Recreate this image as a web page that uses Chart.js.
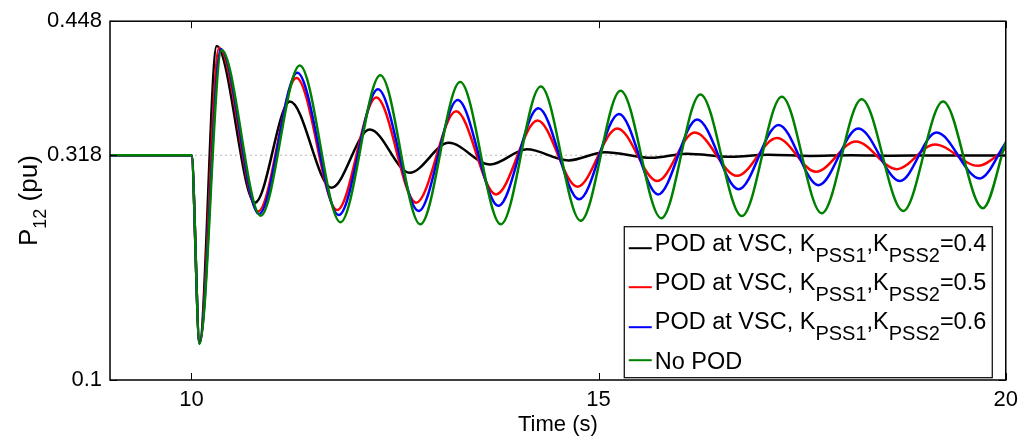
<!DOCTYPE html>
<html>
<head>
<meta charset="utf-8">
<script src="https://cdn.jsdelivr.net/npm/chart.js@4.4.1/dist/chart.umd.min.js"></script>
<style>
  html, body { margin: 0; padding: 0; background: #fff; }
  #wrap { width: 1025px; height: 437px; position: relative; }
</style>
</head>
<body>
<div id="wrap"><canvas id="chart_p12"></canvas></div>
<script>
// P12 (pu) against time (s), read at the turning points of each trace
var blackT = [9.0, 10.0, 10.10, 10.31, 10.78, 11.21, 11.72, 12.19, 12.68, 13.16, 13.67, 14.12, 14.63, 15.08, 15.65, 16.08, 16.63, 17.08, 17.60, 18.10, 18.60, 19.10, 20.0];
var blackP = [0.318, 0.318, 0.136, 0.424, 0.272, 0.370, 0.2865, 0.343, 0.301, 0.330, 0.309, 0.3237, 0.313, 0.321, 0.3155, 0.3195, 0.3165, 0.3185, 0.3173, 0.3180, 0.3175, 0.3178, 0.3177];

var redT = [9.0, 10.0, 10.10, 10.34, 10.82, 11.29, 11.79, 12.27, 12.76, 13.25, 13.74, 14.25, 14.74, 15.23, 15.72, 16.18, 16.70, 17.19, 17.67, 18.16, 18.66, 19.13, 19.66, 20.0];
var redP = [0.318, 0.318, 0.136, 0.422, 0.2635, 0.393, 0.265, 0.374, 0.272, 0.3606, 0.280, 0.3516, 0.2875, 0.344, 0.293, 0.340, 0.298, 0.3346, 0.302, 0.3314, 0.3045, 0.3285, 0.3077, 0.324];

var blueT = [9.0, 10.0, 10.10, 10.36, 10.83, 11.30, 11.81, 12.29, 12.79, 13.27, 13.77, 14.26, 14.76, 15.25, 15.73, 16.21, 16.72, 17.21, 17.70, 18.19, 18.70, 19.15, 19.68, 20.0];
var blueP = [0.318, 0.318, 0.136, 0.421, 0.261, 0.398, 0.260, 0.382, 0.264, 0.3715, 0.269, 0.3635, 0.2753, 0.358, 0.280, 0.3526, 0.285, 0.3474, 0.289, 0.344, 0.293, 0.340, 0.2955, 0.330];

var greenT = [9.0, 10.0, 10.10, 10.37, 10.85, 11.33, 11.83, 12.32, 12.81, 13.30, 13.80, 14.29, 14.78, 15.27, 15.77, 16.25, 16.76, 17.25, 17.74, 18.23, 18.74, 19.23, 19.72, 20.0];
var greenP = [0.318, 0.318, 0.135, 0.420, 0.2593, 0.405, 0.253, 0.3955, 0.251, 0.389, 0.251, 0.3846, 0.2545, 0.3805, 0.257, 0.377, 0.259, 0.3747, 0.2618, 0.3724, 0.264, 0.370, 0.2667, 0.331];

// dotted reference at the pre-fault level
var refT = [9, 20];
var refP = [0.318, 0.318];

var xTicks = [10, 15, 20];
var yTicks = [0.1, 0.318, 0.448];

var seriesLabels = [
  'POD at VSC, K_{PSS1},K_{PSS2}=0.4',
  'POD at VSC, K_{PSS1},K_{PSS2}=0.5',
  'POD at VSC, K_{PSS1},K_{PSS2}=0.6',
  'No POD'
];
var seriesColors = ['#000000', '#ff0000', '#0000ff', '#008000'];

var FONT = '"Liberation Sans", Arial, Helvetica, sans-serif';
Chart.defaults.font.family = FONT;
Chart.defaults.color = '#000';

function pts(ts, ps) {
  return ts.map(function (t, i) { return { x: t, y: ps[i] }; });
}

// text with _{...} parts drawn as subscripts
function drawRich(ctx, str, x, y, size, subSize, subDrop) {
  var parts = str.split(/_\{([^}]*)\}/);
  parts.forEach(function (p, i) {
    var sub = i % 2 === 1;
    ctx.font = (sub ? subSize : size) + 'px ' + FONT;
    ctx.fillText(p, x, y + (sub ? subDrop : 0));
    x += ctx.measureText(p).width;
  });
  return x;
}
function richWidth(ctx, str, size, subSize) {
  var w = 0;
  str.split(/_\{([^}]*)\}/).forEach(function (p, i) {
    ctx.font = (i % 2 === 1 ? subSize : size) + 'px ' + FONT;
    w += ctx.measureText(p).width;
  });
  return w;
}

var datasets = [blackT, redT, blueT, greenT].map(function (ts, i) {
  var ps = [blackP, redP, blueP, greenP][i];
  return {
    label: seriesLabels[i],
    data: pts(ts, ps),
    borderColor: seriesColors[i],
    borderWidth: 2.5,
    pointRadius: 0,
    fill: false,
    cubicInterpolationMode: 'monotone',
    order: 4 - i
  };
});
datasets.push({
  label: 'ref',
  data: pts(refT, refP),
  borderColor: '#b8b8b8',
  borderWidth: 1,
  borderDash: [2, 3],
  pointRadius: 0,
  order: 10
});

var framePlugin = {
  id: 'matlabFrame',
  afterDraw: function (chart) {
    var ctx = chart.ctx;
    var a = chart.chartArea;
    var xs = chart.scales.x, ys = chart.scales.y;
    ctx.save();
    ctx.strokeStyle = '#000';
    ctx.lineWidth = 1.5;
    ctx.strokeRect(a.left, a.top, a.right - a.left, a.bottom - a.top);
    ctx.lineWidth = 1;
    ctx.beginPath();
    xTicks.forEach(function (v) {
      var px = Math.round(xs.getPixelForValue(v)) + 0.5;
      ctx.moveTo(px, a.bottom); ctx.lineTo(px, a.bottom - 7);
      ctx.moveTo(px, a.top); ctx.lineTo(px, a.top + 7);
    });
    yTicks.forEach(function (v) {
      var py = Math.round(ys.getPixelForValue(v)) + 0.5;
      ctx.moveTo(a.left, py); ctx.lineTo(a.left + 7, py);
      ctx.moveTo(a.right, py); ctx.lineTo(a.right - 7, py);
    });
    ctx.stroke();

    // axis titles
    ctx.fillStyle = '#000';
    ctx.textBaseline = 'alphabetic';
    ctx.font = '22px ' + FONT;
    ctx.textAlign = 'center';
    ctx.fillText('Time (s)', (a.left + a.right) / 2, 431);
    ctx.textAlign = 'left';
    var yt = 'P_{12} (pu)';
    var w = richWidth(ctx, yt, 26, 18);
    ctx.translate(37, (a.top + a.bottom) / 2);
    ctx.rotate(-Math.PI / 2);
    drawRich(ctx, yt, -w / 2, 0, 26, 18, 9);
    ctx.restore();

    // legend box
    ctx.save();
    var bx = a.right - 382, by = a.top + 205, bw = 368, bh = 151;
    ctx.fillStyle = '#fff';
    ctx.fillRect(bx, by, bw, bh);
    ctx.strokeStyle = '#000';
    ctx.lineWidth = 1.2;
    ctx.strokeRect(bx + 0.5, by + 0.5, bw, bh);
    var baseY = [25, 64, 103, 143];
    var lineY = [22, 61, 101, 134];
    seriesLabels.forEach(function (lab, i) {
      ctx.strokeStyle = seriesColors[i];
      ctx.lineWidth = 2;
      ctx.beginPath();
      ctx.moveTo(bx + 5, by + lineY[i]);
      ctx.lineTo(bx + 28, by + lineY[i]);
      ctx.stroke();
      ctx.fillStyle = '#000';
      ctx.textAlign = 'left';
      ctx.textBaseline = 'alphabetic';
      drawRich(ctx, lab, bx + 31, by + baseY[i], 23.5, 20, 11);
    });
    ctx.restore();
  }
};

var chart_p12 = new Chart(document.getElementById('chart_p12'), {
  type: 'line',
  data: { datasets: datasets },
  options: {
    animation: false,
    responsive: true,
    maintainAspectRatio: false,
    layout: { padding: { left: 0, right: 17, top: 18, bottom: 0 } },
    plugins: {
      legend: { display: false },
      tooltip: { enabled: false },
      title: { display: false }
    },
    scales: {
      x: {
        type: 'linear',
        min: 9,
        max: 20,
        afterBuildTicks: function (s) { s.ticks = xTicks.map(function (v) { return { value: v }; }); },
        afterFit: function (s) { s.height = 57; },
        grid: { display: false, drawTicks: false },
        border: { display: false },
        ticks: { font: { size: 22 }, color: '#000', padding: 7, maxRotation: 0, autoSkip: false }
      },
      y: {
        type: 'linear',
        min: 0.1,
        max: 0.448,
        afterBuildTicks: function (s) { s.ticks = yTicks.map(function (v) { return { value: v }; }); },
        afterFit: function (s) { s.width = 110; },
        grid: { display: false, drawTicks: false },
        border: { display: false },
        ticks: {
          font: { size: 22 }, color: '#000', padding: 8, autoSkip: false,
          callback: function (v) { return String(v); }
        }
      }
    }
  }, 
  plugins: [framePlugin]
});
</script>
</body>
</html>
